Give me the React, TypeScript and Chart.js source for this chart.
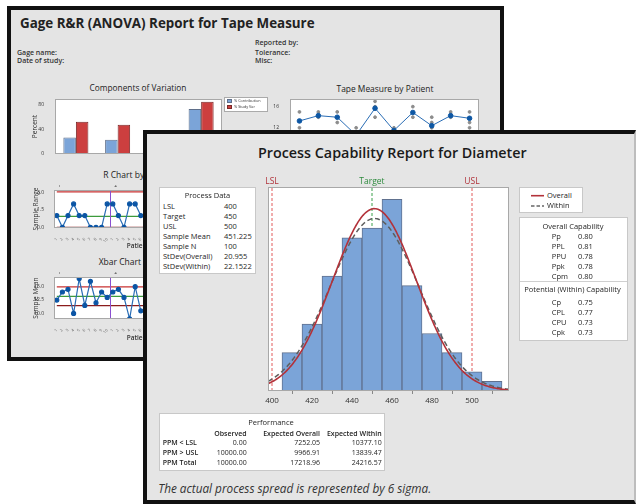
import React, { useEffect, useRef } from 'react';
import { Chart, registerables } from 'chart.js';
Chart.register(...registerables);

const FONT = '"Open Sans", "Noto Sans", sans-serif';

// ---------------- Process Capability (front window) data ----------------
const BIN_CENTERS = [410, 420, 430, 440, 450, 460, 470, 480, 490, 500, 510];
const BIN_COUNTS = [4, 7, 12, 16, 17, 20, 11, 6, 4, 2, 1];
const BIN_WIDTH = 10;
const HIST_X_TICKS = [400, 420, 440, 460, 480, 500];
const LSL = 400;
const TARGET = 450;
const USL = 500;
const SAMPLE_MEAN = 451.225;
const SAMPLE_N = 100;
const STDEV_OVERALL = 20.955;
const STDEV_WITHIN = 22.1522;

const PROCESS_DATA_LABELS = ['LSL', 'Target', 'USL', 'Sample Mean', 'Sample N', 'StDev(Overall)', 'StDev(Within)'];
const PROCESS_DATA_VALUES = ['400', '450', '500', '451.225', '100', '20.955', '22.1522'];
const OVERALL_CAP_LABELS = ['Pp', 'PPL', 'PPU', 'Ppk', 'Cpm'];
const OVERALL_CAP_VALUES = ['0.80', '0.81', '0.78', '0.78', '0.80'];
const WITHIN_CAP_LABELS = ['Cp', 'CPL', 'CPU', 'Cpk'];
const WITHIN_CAP_VALUES = ['0.75', '0.77', '0.73', '0.73'];
const PERF_ROWS = ['PPM < LSL', 'PPM > USL', 'PPM Total'];
const PERF_OBSERVED = ['0.00', '10000.00', '10000.00'];
const PERF_EXP_OVERALL = ['7252.05', '9966.91', '17218.96'];
const PERF_EXP_WITHIN = ['10377.10', '13839.47', '24216.57'];

// ---------------- Gage R&R (back window) data ----------------
const COMPONENTS = ['Gage R&R', 'Repeat', 'Reprod', 'Part-to-Part'];
const PCT_CONTRIBUTION = [27, 23, 4, 73];
const PCT_STUDY_VAR = [52.5, 47.5, 20, 85];
const COMP_Y_TICKS = [0, 40, 80];

const PATIENTS = ['1', '2', '3', '4', '5', '6', '7', '8', '9', '10'];
const PATIENT_MEANS = [13.3, 14.3, 14.0, 10.6, 15.7, 11.5, 14.9, 12.4, 14.3, 13.8];
const MEAS_PATIENT = ['1', '1', '2', '2', '3', '3', '4', '5', '5', '5', '6', '7', '7', '8', '8', '8', '9', '9', '10', '10', '10'];
const MEAS_VALUE = [15, 12, 15, 14, 15, 13, 12, 17, 16, 14, 12, 16, 14, 14, 13, 12, 15, 14, 15, 13, 12];
const TAPE_Y_TICKS = [8, 12, 16];

const OPERATORS = ['1', '2', '3'];
const SUBGROUP_LABELS = OPERATORS.flatMap(() => PATIENTS);
const RANGES = [1, 0, 1, 2, 1, 1, 0, 0, 0, 2, 2, 1, 0, 2, 2, 1];
const R_UCL = 3.02;
const R_BAR = 0.925;
const R_LCL = 0;
const R_Y_TICKS = [0, 1.5, 3];
const XBARS = [12.5, 14, 14.5, 10, 16.5, 11.5, 16, 12, 14, 13, 14, 14.5, 13, 9, 15, 10.5];
const X_UCL = 14.94;
const X_BAR = 13.19;
const X_LCL = 11.45;
const X_Y_TICKS = [10, 12.5, 15];

// ---------------- helpers ----------------
let mctx: CanvasRenderingContext2D | null = null;
function fitSize(text: string, weight: number, italic: boolean, target: number) {
  if (!mctx) mctx = document.createElement('canvas').getContext('2d');
  mctx!.font = `${italic ? 'italic ' : ''}${weight} 100px ${FONT}`;
  return (100 * target) / mctx!.measureText(text).width;
}

type TP = { x: number; y: number; s?: number; t: string; w?: number; a?: 'l' | 'c' | 'r'; c?: string; i?: boolean; fit?: number };
function T({ x, y, s = 8, t, w = 400, a = 'l', c = '#1e1e1e', i = false, fit }: TP) {
  const size = fit ? fitSize(t, w, i, fit) : s;
  const lh = size * 1.3;
  const st: React.CSSProperties = {
    position: 'absolute', top: y - lh / 2, height: lh, lineHeight: lh + 'px', fontSize: size,
    fontWeight: w, fontFamily: FONT, color: c, whiteSpace: 'pre', fontStyle: i ? 'italic' : 'normal',
  };
  if (a === 'l') st.left = x;
  else if (a === 'c') { st.left = x - 300; st.width = 600; st.textAlign = 'center'; }
  else { st.left = x - 600; st.width = 600; st.textAlign = 'right'; }
  return <div style={st}>{t}</div>;
}

function Box({ x, y, w, h, bg = '#fff', b = '#c8c8c8' }: any) {
  return <div style={{ position: 'absolute', left: x, top: y, width: w, height: h, background: bg, border: `1px solid ${b}`, boxSizing: 'border-box' }} />;
}

function ChartCanvas({ x, y, w, h, make }: any) {
  const ref = useRef<HTMLCanvasElement>(null);
  useEffect(() => {
    const c = new Chart(ref.current!, make());
    return () => c.destroy();
  }, []);
  return <canvas ref={ref} width={w} height={h} style={{ position: 'absolute', left: x, top: y, width: w, height: h }} />;
}

const base = (pad: any) => ({
  responsive: false, animation: false, events: [] as any[], layout: { padding: pad },
  plugins: { legend: { display: false }, tooltip: { enabled: false } },
});

const frame = (border = '#a8a8a8') => ({
  id: 'frame',
  beforeDraw(chart: any) {
    const { ctx, chartArea: a } = chart;
    ctx.save(); ctx.fillStyle = '#fff'; ctx.fillRect(a.left, a.top, a.right - a.left, a.bottom - a.top); ctx.restore();
  },
  afterDraw(chart: any) {
    const { ctx, chartArea: a } = chart;
    ctx.save(); ctx.strokeStyle = border; ctx.lineWidth = 1;
    ctx.strokeRect(Math.round(a.left) + 0.5, Math.round(a.top) + 0.5, Math.round(a.right - a.left) - 1, Math.round(a.bottom - a.top) - 1);
    ctx.restore();
  },
});

const fixW = (w: number) => (s: any) => { s.width = w; };
const fixH = (h: number) => (s: any) => { s.height = h; };
const setTicks = (vals: number[]) => (ax: any) => { ax.ticks = vals.map((v) => ({ value: v })); };
const f = (size: number, weight: any = 400) => ({ size, family: FONT, weight });

// ---------------- Histogram (front) ----------------
const HIST_X_MIN = 398;
const HIST_X_MAX = 518.5;
const HIST_Y_MAX = 21.3;
const SPEC_RED = '#b0323a';
const SPEC_GREEN = '#2e8b3e';

function fittedNormal(mean: number, sd: number) {
  // fitted normal curve from the reported mean / standard deviation, scaled to counts
  const pts: { x: number; y: number }[] = [];
  for (let x = HIST_X_MIN; x <= HIST_X_MAX; x += 0.5) {
    pts.push({ x, y: (SAMPLE_N * BIN_WIDTH * Math.exp(-0.5 * ((x - mean) / sd) ** 2)) / (sd * Math.sqrt(2 * Math.PI)) });
  }
  return pts;
}

const specLabels = {
  id: 'specLabels',
  afterDraw(chart: any) {
    const { ctx, chartArea, scales } = chart;
    ctx.save();
    ctx.font = `8.5px ${FONT}`; ctx.textAlign = 'center'; ctx.textBaseline = 'middle';
    ([[LSL, 'LSL', SPEC_RED], [TARGET, 'Target', SPEC_GREEN], [USL, 'USL', SPEC_RED]] as any[]).forEach(([v, t, c]) => {
      ctx.fillStyle = c; ctx.fillText(t, scales.x.getPixelForValue(v), chartArea.top - 5);
    });
    ctx.restore();
  },
};

const specLine = (v: number, color: string) => ({
  type: 'line', data: [{ x: v, y: 0 }, { x: v, y: HIST_Y_MAX }], borderColor: color, borderWidth: 1,
  borderDash: [3, 2], pointRadius: 0, order: 5,
});

const histConfig = () => ({
  type: 'bar',
  data: {
    datasets: [
      { type: 'line', data: fittedNormal(SAMPLE_MEAN, STDEV_OVERALL), borderColor: '#b3323a', borderWidth: 1.6, pointRadius: 0, order: 0 },
      { type: 'line', data: fittedNormal(SAMPLE_MEAN, STDEV_WITHIN), borderColor: '#5e5e5e', borderWidth: 1.5, borderDash: [5, 3], pointRadius: 0, order: 1 },
      { type: 'bar', data: BIN_CENTERS.map((c, i) => ({ x: c, y: BIN_COUNTS[i] })), backgroundColor: '#7ba4d8', borderColor: '#60718f', borderWidth: 1, barPercentage: 1, categoryPercentage: 1, order: 3 },
      specLine(LSL, '#e25a5a'), specLine(TARGET, '#3aa04a'), specLine(USL, '#e25a5a'),
    ],
  },
  options: {
    ...base({ left: 10, top: 15, right: 15, bottom: 0 }),
    scales: {
      x: {
        type: 'linear', min: HIST_X_MIN, max: HIST_X_MAX, offset: false, afterBuildTicks: setTicks(HIST_X_TICKS),
        ticks: { font: f(8), color: '#333', padding: 2 },
        grid: { display: true, drawOnChartArea: false, drawTicks: true, tickLength: 3, color: '#888' },
        border: { display: false }, afterFit: fixH(21),
      },
      y: { display: false, min: 0, max: HIST_Y_MAX },
    },
  },
  plugins: [frame(), specLabels],
});

// ---------------- Components of Variation (back) ----------------
const compConfig = () => ({
  type: 'bar',
  data: {
    labels: COMPONENTS,
    datasets: [
      { label: '% Contribution', data: PCT_CONTRIBUTION, backgroundColor: '#7ba4d8', borderColor: '#5f6f8a', borderWidth: 1, categoryPercentage: 0.6, barPercentage: 1 },
      { label: '% Study Var', data: PCT_STUDY_VAR, backgroundColor: '#cc3f3f', borderColor: '#7a2a2a', borderWidth: 1, categoryPercentage: 0.6, barPercentage: 1 },
    ],
  },
  options: {
    ...base({ left: 0, top: 4, right: 8, bottom: 0 }),
    scales: {
      x: { grid: { display: false }, border: { display: false }, ticks: { font: f(5, 600), color: '#333', padding: 2 }, afterFit: fixH(10) },
      y: {
        min: 0, max: 89.4, afterBuildTicks: setTicks(COMP_Y_TICKS), grid: { display: false }, border: { display: false },
        ticks: { font: f(5), color: '#333', padding: 3 },
        title: { display: true, text: 'Percent', font: f(6.5), color: '#333', padding: { top: 3, bottom: 0 } },
        afterFit: fixW(27),
      },
    },
  },
  plugins: [frame()],
});

// ---------------- Tape Measure by Patient (back) ----------------
const tapeConfig = () => ({
  type: 'line',
  data: {
    labels: PATIENTS,
    datasets: [
      { data: PATIENT_MEANS, borderColor: '#2a6db5', borderWidth: 1, pointRadius: 2.3, pointBackgroundColor: '#0d57a4', pointBorderColor: '#0d57a4', order: 0 },
      { data: MEAS_PATIENT.map((p, i) => ({ x: p, y: MEAS_VALUE[i] })), showLine: false, pointRadius: 1.4, pointBackgroundColor: '#8c8c8c', pointBorderColor: '#8c8c8c', order: 1 },
    ],
  },
  options: {
    ...base({ left: 0, top: 4, right: 6, bottom: 0 }),
    scales: {
      x: { offset: true, grid: { display: false }, border: { display: false }, ticks: { font: f(5), color: '#333' }, afterFit: fixH(13) },
      y: { min: 7.8, max: 17.45, afterBuildTicks: setTicks(TAPE_Y_TICKS), grid: { display: false }, border: { display: false }, ticks: { font: f(5), color: '#333', padding: 3 }, afterFit: fixW(22) },
    },
  },
  plugins: [frame()],
});

// ---------------- R / Xbar charts (back) ----------------
function controlPlugin(ucl: number, cl: number, lcl: number) {
  return {
    id: 'ctrl',
    beforeDatasetsDraw(chart: any) {
      const { ctx, chartArea: a, scales: { x, y } } = chart;
      const x0 = x.getPixelForValue(0);
      const x1 = x.getPixelForValue(SUBGROUP_LABELS.length - 1);
      ctx.save(); ctx.lineWidth = 1.2;
      ([[ucl, '#c83232'], [cl, '#3c9b3c'], [lcl, '#8b1c1c']] as any[]).forEach(([v, c]) => {
        const py = y.getPixelForValue(v);
        ctx.strokeStyle = c; ctx.beginPath(); ctx.moveTo(x0, py); ctx.lineTo(x1, py); ctx.stroke();
      });
      ctx.strokeStyle = '#8a4fd0'; ctx.lineWidth = 1;
      for (let k = 1; k < OPERATORS.length; k++) {
        const idx = k * PATIENTS.length;
        const px = Math.round((x.getPixelForValue(idx - 1) + x.getPixelForValue(idx)) / 2) + 0.5;
        ctx.beginPath(); ctx.moveTo(px, a.top); ctx.lineTo(px, a.bottom); ctx.stroke();
      }
      ctx.restore();
    },
    afterDraw(chart: any) {
      const { ctx, chartArea: a, scales: { x } } = chart;
      ctx.save(); ctx.font = `5px ${FONT}`; ctx.fillStyle = '#333'; ctx.textAlign = 'center'; ctx.textBaseline = 'middle';
      OPERATORS.forEach((op, k) => ctx.fillText(op, x.getPixelForValue(k * PATIENTS.length) + 3, a.top - 5));
      ctx.restore();
    },
  };
}

const controlConfig = (values: number[], ucl: number, cl: number, lcl: number, yMin: number, yMax: number, yTicks: number[], yTitle: string, xH: number) => () => ({
  type: 'line',
  data: {
    labels: SUBGROUP_LABELS,
    datasets: [{ data: values, borderColor: '#2a6db5', borderWidth: 1.2, pointRadius: 2, pointBackgroundColor: '#0b55a5', pointBorderColor: '#0b55a5' }],
  },
  options: {
    ...base({ left: 0, top: 4, right: 8, bottom: 0 }),
    scales: {
      x: {
        offset: true, grid: { display: false }, border: { display: false },
        ticks: { autoSkip: false, minRotation: 45, maxRotation: 45, font: f(4), color: '#666', padding: 1 },
        title: { display: true, text: 'Patient', font: f(6.5, 600), color: '#333', padding: 0 },
        afterFit: fixH(xH),
      },
      y: {
        min: yMin, max: yMax, afterBuildTicks: setTicks(yTicks), grid: { display: false }, border: { display: false },
        ticks: { font: f(5), color: '#333', padding: 2, callback: (v: any) => Number(v).toFixed(1) },
        title: { display: true, text: yTitle, font: f(6.5), color: '#333', padding: { top: 2, bottom: 0 } },
        afterFit: fixW(24),
      },
    },
  },
  plugins: [frame(), controlPlugin(ucl, cl, lcl)],
});

// ---------------- App ----------------
export default function App() {
  const rowsPD = PROCESS_DATA_LABELS.map((l, i) => (
    <React.Fragment key={l}>
      <T x={163} y={206.7 + i * 10.1} s={7.5} t={l} />
      <T x={224} y={206.7 + i * 10.1} s={7.5} t={PROCESS_DATA_VALUES[i]} />
    </React.Fragment>
  ));
  return (
    <div style={{ position: 'absolute', left: 0, top: 0, width: 636, height: 504, background: '#fff', overflow: 'hidden' }}>
      {/* back window */}
      <div style={{ position: 'absolute', left: 7, top: 6, width: 497, height: 355, background: '#e4e4e4', border: '4px solid #111', boxSizing: 'border-box' }} />
      <T x={20} y={24} t="Gage R&R (ANOVA) Report for Tape Measure" w={700} fit={295} c="#222" />
      <T x={17} y={52.3} s={7} w={600} t="Gage name:" c="#333" />
      <T x={17} y={61} s={7} w={600} t="Date of study:" c="#333" />
      <T x={255} y={42.7} s={7} w={600} t="Reported by:" c="#333" />
      <T x={255} y={52.3} s={7} w={600} t="Tolerance:" c="#333" />
      <T x={255} y={61} s={7} w={600} t="Misc:" c="#333" />
      <T x={138} y={88.5} t="Components of Variation" fit={97} c="#222" a="c" />
      <T x={385} y={89.3} t="Tape Measure by Patient" fit={97} c="#222" a="c" />
      <ChartCanvas x={28} y={93} w={202} h={71} make={compConfig} />
      <Box x={224} y={97} w={44} h={15} b="#aaa" />
      <div style={{ position: 'absolute', left: 227, top: 99, width: 5, height: 4, background: '#7ba4d8', border: '0.5px solid #5f6f8a', boxSizing: 'border-box' }} />
      <div style={{ position: 'absolute', left: 227, top: 105, width: 5, height: 4, background: '#cc3f3f', border: '0.5px solid #7a2a2a', boxSizing: 'border-box' }} />
      <T x={234} y={101} s={3.8} t="% Contribution" c="#333" />
      <T x={234} y={107} s={3.8} t="% Study Var" c="#333" />
      <ChartCanvas x={268} y={93} w={217} h={70} make={tapeConfig} />
      <T x={143} y={175} s={8.5} t="R Chart by Operator" c="#222" a="c" />
      <ChartCanvas x={30} y={185} w={200} h={65} make={controlConfig(RANGES, R_UCL, R_BAR, R_LCL, -0.06, 3.17, R_Y_TICKS, 'Sample Range', 22)} />
      <T x={145} y={262} s={8.5} t="Xbar Chart by Operator" c="#222" a="c" />
      <ChartCanvas x={30} y={272} w={200} h={70} make={controlConfig(XBARS, X_UCL, X_BAR, X_LCL, 8.97, 16.76, X_Y_TICKS, 'Sample Mean', 23)} />

      {/* front window */}
      <div style={{ position: 'absolute', left: 143, top: 130, width: 493, height: 374, background: '#e5e5e5', borderLeft: '4px solid #111', borderTop: '4px solid #111', borderBottom: '4px solid #111', borderRight: '2px solid #bdbdbd', boxSizing: 'border-box' }} />
      <T x={258} y={153} t="Process Capability Report for Diameter" w={600} fit={269} c="#1a1a1a" />

      <Box x={159} y={187} w={97} h={87} />
      <T x={207.5} y={196} s={7.5} t="Process Data" a="c" />
      {rowsPD}

      <ChartCanvas x={258} y={172} w={266} h={240} make={histConfig} />

      <Box x={519} y={187} w={64} h={26} />
      <svg style={{ position: 'absolute', left: 530, top: 190, width: 16, height: 20 }} width={16} height={20}>
        <line x1={1} y1={5.7} x2={14} y2={5.7} stroke="#b3323a" strokeWidth={1.6} />
        <line x1={1} y1={16} x2={14} y2={16} stroke="#666" strokeWidth={1.4} strokeDasharray="3.5 2" />
      </svg>
      <T x={547} y={195.7} s={7.5} t="Overall" />
      <T x={547} y={206} s={7.5} t="Within" />

      <Box x={519} y={217} w={109} h={124} />
      <div style={{ position: 'absolute', left: 520, top: 281, width: 107, height: 1, background: '#cfcfcf' }} />
      <T x={573} y={227} s={7.5} t="Overall Capability" a="c" />
      {OVERALL_CAP_LABELS.map((l, i) => (
        <React.Fragment key={l}>
          <T x={551.7} y={236.7 + i * 10} s={7.5} t={l} />
          <T x={578} y={236.7 + i * 10} s={7.5} t={OVERALL_CAP_VALUES[i]} />
        </React.Fragment>
      ))}
      <T x={572.5} y={290} s={7.5} t="Potential (Within) Capability" a="c" />
      {WITHIN_CAP_LABELS.map((l, i) => (
        <React.Fragment key={l}>
          <T x={551.7} y={302.7 + i * 10} s={7.5} t={l} />
          <T x={578} y={302.7 + i * 10} s={7.5} t={WITHIN_CAP_VALUES[i]} />
        </React.Fragment>
      ))}

      <Box x={159} y={413} w={226} h={58} />
      <T x={271} y={423.3} s={7.5} t="Performance" a="c" />
      <T x={246.7} y={433.3} s={7} w={600} t="Observed" a="r" />
      <T x={320} y={433.3} s={7} w={600} t="Expected Overall" a="r" />
      <T x={381.7} y={433.3} s={7} w={600} t="Expected Within" a="r" />
      {PERF_ROWS.map((l, i) => (
        <React.Fragment key={l}>
          <T x={162.7} y={442.5 + i * 9.9} s={7} w={600} t={l} />
          <T x={246.7} y={442.5 + i * 9.9} s={7} t={PERF_OBSERVED[i]} a="r" />
          <T x={320} y={442.5 + i * 9.9} s={7} t={PERF_EXP_OVERALL[i]} a="r" />
          <T x={381.7} y={442.5 + i * 9.9} s={7} t={PERF_EXP_WITHIN[i]} a="r" />
        </React.Fragment>
      ))}
      <T x={158.3} y={488.3} t="The actual process spread is represented by 6 sigma." i fit={273} c="#333" />
    </div>
  );
}
